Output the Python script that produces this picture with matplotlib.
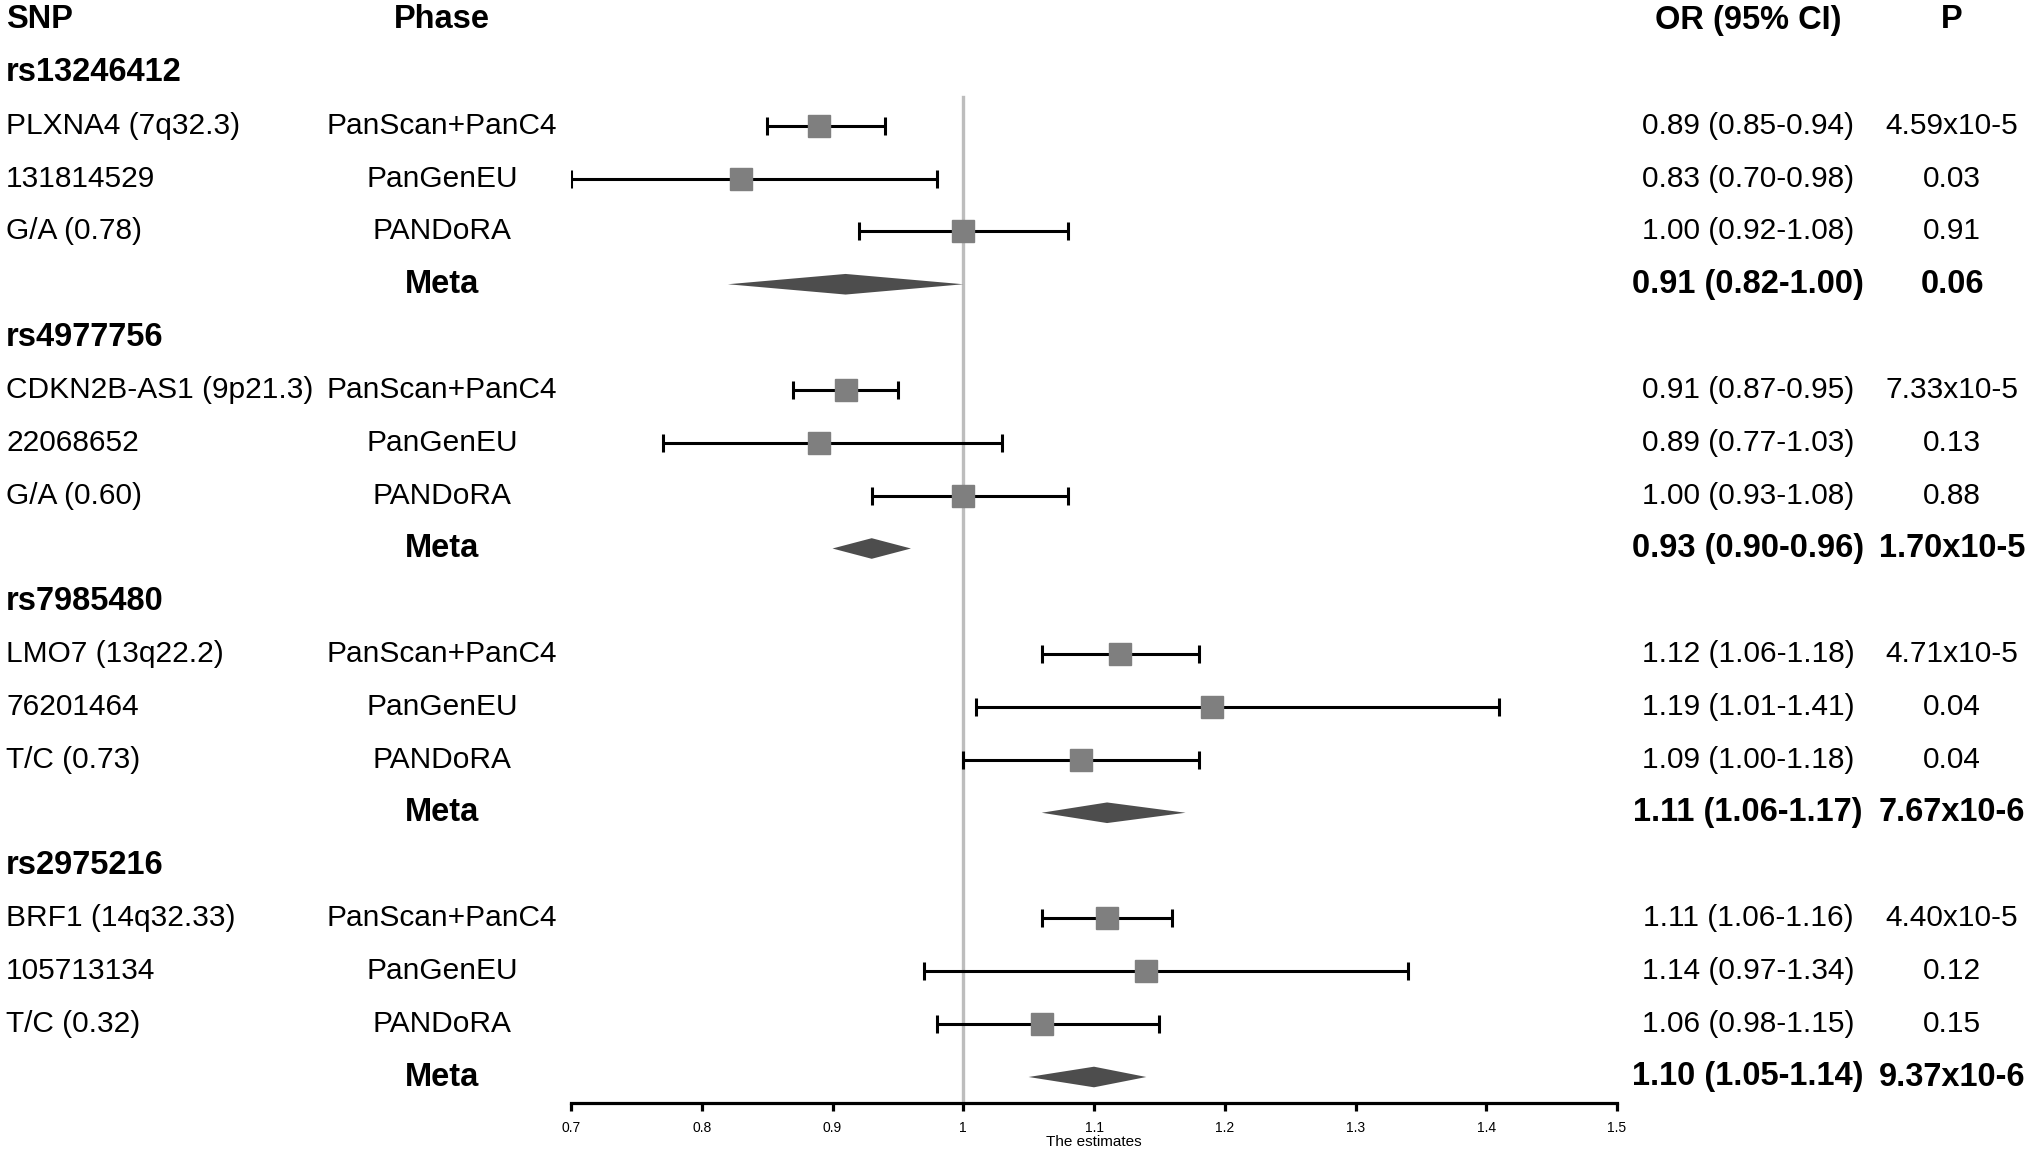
"""Forest plot: four pancreatic-cancer SNPs across three phases plus meta-analysis."""
import matplotlib
matplotlib.use("Agg")
import matplotlib.pyplot as plt
from matplotlib.transforms import blended_transform_factory
from matplotlib.ticker import FormatStrFormatter

plt.rcParams["font.family"] = ["Liberation Sans", "DejaVu Sans"]

SNPS = ["rs13246412", "rs4977756", "rs7985480", "rs2975216"]
GENES = ["PLXNA4 (7q32.3)", "CDKN2B-AS1 (9p21.3)", "LMO7 (13q22.2)", "BRF1 (14q32.33)"]
POSITIONS = ["131814529", "22068652", "76201464", "105713134"]
ALLELES = ["G/A (0.78)", "G/A (0.60)", "T/C (0.73)", "T/C (0.32)"]
PHASES = ["PanScan+PanC4", "PanGenEU", "PANDoRA"]

EST = [[0.89, 0.83, 1.00], [0.91, 0.89, 1.00], [1.12, 1.19, 1.09], [1.11, 1.14, 1.06]]
LO = [[0.85, 0.70, 0.92], [0.87, 0.77, 0.93], [1.06, 1.01, 1.00], [1.06, 0.97, 0.98]]
HI = [[0.94, 0.98, 1.08], [0.95, 1.03, 1.08], [1.18, 1.41, 1.18], [1.16, 1.34, 1.15]]
PVAL = [["4.59x10-5", "0.03", "0.91"], ["7.33x10-5", "0.13", "0.88"],
        ["4.71x10-5", "0.04", "0.04"], ["4.40x10-5", "0.12", "0.15"]]

META_EST = [0.91, 0.93, 1.11, 1.10]
META_LO = [0.82, 0.90, 1.06, 1.05]
META_HI = [1.00, 0.96, 1.17, 1.14]
META_P = ["0.06", "1.70x10-5", "7.67x10-6", "9.37x10-6"]

XTICKS = [0.7, 0.8, 0.9, 1.0, 1.1, 1.2, 1.3, 1.4, 1.5]

W, H = 2032, 1161
ROW0, ROWH = 20, 52.85       # pixel y of header row, row spacing
AX_L, AX_R, AX_B = 571, 1617, 1103
X_SNP, X_PHASE, X_OR, X_P = 6, 442, 1748, 1952
FS, FS_BOLD = 21.5, 23.5

fig = plt.figure(figsize=(W / 100, H / 100), dpi=100)
ax = fig.add_axes([AX_L / W, 1 - AX_B / H, (AX_R - AX_L) / W, AX_B / H])
ax.set_xlim(0.7, 1.5)
ax.set_ylim((AX_B - ROW0) / ROWH, -ROW0 / ROWH)
for s in ("top", "left", "right"):
    ax.spines[s].set_visible(False)
ax.spines["bottom"].set_linewidth(2.3)
ax.spines["bottom"].set_bounds(0.7, 1.5)
ax.set_yticks([])
ax.set_xticks(XTICKS)
ax.xaxis.set_major_formatter(FormatStrFormatter("%g"))
ax.tick_params(axis="x", length=6, width=2.3, labelsize=10, pad=7)
ax.set_xlabel("The estimates", fontsize=11, labelpad=0)

tr = blended_transform_factory(fig.transFigure, ax.transData)


def put(xpx, row, s, ha="left", bold=False):
    ax.text(xpx / W, row, s, transform=tr, ha=ha, va="center",
            fontsize=FS_BOLD if bold else FS,
            fontweight="bold" if bold else "normal", color="black", clip_on=False)


# header
put(X_SNP, 0, "SNP", bold=True)
put(X_PHASE, 0, "Phase", ha="center", bold=True)
put(X_OR, 0, "OR (95% CI)", ha="center", bold=True)
put(X_P, 0, "P", ha="center", bold=True)

# reference line at OR = 1
ax.plot([1.0, 1.0], [1.45, (AX_B - ROW0) / ROWH], color="#bdbdbd", lw=2.4,
        zorder=1, clip_on=False)

for k, snp in enumerate(SNPS):
    base = 1 + 5 * k
    put(X_SNP, base, snp, bold=True)
    left_labels = [GENES[k], POSITIONS[k], ALLELES[k]]
    for j, phase in enumerate(PHASES):
        r = base + 1 + j
        put(X_SNP, r, left_labels[j])
        put(X_PHASE, r, phase, ha="center")
        put(X_OR, r, f"{EST[k][j]:.2f} ({LO[k][j]:.2f}-{HI[k][j]:.2f})", ha="center")
        put(X_P, r, PVAL[k][j], ha="center")
        ax.errorbar(EST[k][j], r, xerr=[[EST[k][j] - LO[k][j]], [HI[k][j] - EST[k][j]]],
                    fmt="none", ecolor="black", elinewidth=2.2, capsize=6.5,
                    capthick=2.2, zorder=2)
        ax.plot(EST[k][j], r, marker="s", ms=15.5, color="#7f7f7f", mec="#7f7f7f",
                zorder=3)
    rm = base + 4
    put(X_PHASE, rm, "Meta", ha="center", bold=True)
    put(X_OR, rm, f"{META_EST[k]:.2f} ({META_LO[k]:.2f}-{META_HI[k]:.2f})",
        ha="center", bold=True)
    put(X_P, rm, META_P[k], ha="center", bold=True)
    hh = 0.195
    ax.fill([META_LO[k], META_EST[k], META_HI[k], META_EST[k]],
            [rm, rm - hh, rm, rm + hh], color="#4d4d4d", lw=0, zorder=3)

fig.savefig("out.png", dpi=100)
